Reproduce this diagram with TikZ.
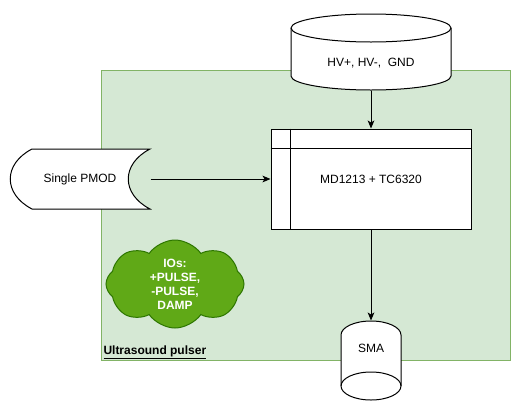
\documentclass[tikz,border=0pt]{standalone}
\usepackage{fontspec}
\setmainfont{Liberation Sans}
\usepackage{tikz}
\usetikzlibrary{shapes,arrows.meta,positioning,fit,calc}
\definecolor{pulserfill}{HTML}{D5E8D4}
\definecolor{pulserline}{HTML}{82B366}
\definecolor{iofill}{HTML}{60A917}
\definecolor{ioline}{HTML}{2D7600}

\begin{document}
\begin{tikzpicture}[x=0.75pt, y=-0.75pt, line width=0.75pt, font=\fontsize{9}{10.5}\selectfont,
    >={Stealth[length=6pt, width=5pt, inset=1.5pt]},
    group/.style={rectangle, draw=pulserline, fill=pulserfill, inner sep=0pt},
    block/.style={rectangle, draw, fill=white, minimum width=150pt, minimum height=75pt, align=center},
    port/.style={rectangle, minimum width=105pt, minimum height=45pt, align=center},
    can/.style={draw, fill=white},
    ios/.style={cloud, cloud puffs=8, cloud puff arc=110, cloud ignores aspect, inner sep=0pt, draw=ioline, fill=iofill, text=white, font=\fontsize{9}{10.5}\selectfont\bfseries, align=center, minimum width=103.5pt, minimum height=66pt},
    link/.style={->}
]
    \useasboundingbox (0,0) rectangle (521,411);

    % Pulser board
    \node[group, fit={(101,70) (510,360)}] (pulser) {};
    \node[anchor=base west, inner sep=0pt, font=\fontsize{9}{10.5}\selectfont\bfseries] (title) at (103,354) {\underline{Ultrasound pulser}};

    % HV supply
    \draw[can] (291,28) -- (291,76) arc[start angle=180, end angle=0, x radius=80, y radius=14] -- (451,28) arc[start angle=0, end angle=-180, x radius=80, y radius=14] -- cycle;
    \draw (291,28) arc[start angle=180, end angle=0, x radius=80, y radius=14];
    \node[minimum width=120pt, minimum height=40.5pt] (supply) at (371,63) {HV+, HV-,\ \ GND};

    % Driver IC
    \node[block] (driver) at (371,179) {MD1213 + TC6320};
    \draw ([xshift=15pt]driver.north west) -- ([xshift=15pt]driver.south west);
    \draw ([yshift=-15pt]driver.north west) -- ([yshift=-15pt]driver.north east);

    % PMOD connector
    \draw[can] (32,149) -- (150,149) .. controls (121,164) and (121,194) .. (150,209) -- (32,209) .. controls (3,194) and (3,164) .. (32,149) -- cycle;
    \node[port] (pmod) at (80,179) {Single PMOD};

    % SMA output
    \draw[can] (341,335) arc[start angle=180, end angle=360, x radius=30, y radius=14] -- (401,386) arc[start angle=0, end angle=180, x radius=30, y radius=14] -- cycle;
    \draw (341,386) arc[start angle=180, end angle=360, x radius=30, y radius=14];
    \node[minimum width=45pt, minimum height=40.5pt] (sma) at (371,348) {SMA};

    % IO cloud
    \node[ios] (iolist) at (175,284) {IOs:\\+PULSE,\\-PULSE,\\DAMP};

    % Arrows
    \draw[link] (supply) -- (driver);
    \draw[link] (pmod) -- (driver);
    \draw[link] (driver) -- (sma);
\end{tikzpicture}
\end{document}
